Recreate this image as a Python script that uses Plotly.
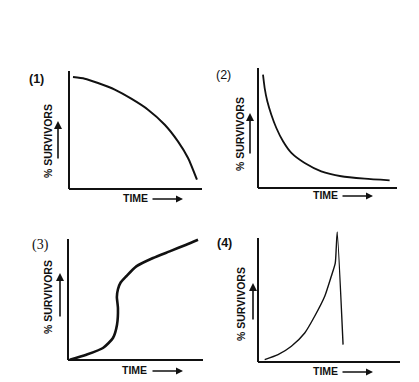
import plotly.graph_objects as go

W, H = 419, 382

# ---- data (time in %, survivors in %) ----
p1_time = [3.0, 11.8, 21.8, 34.4, 46.8, 59.4, 72.0, 81.9, 89.5, 96.2]
p1_surv = [94.9, 93.5, 89.8, 84.2, 76.5, 67.2, 54.5, 40.4, 26.3, 7.9]

p2_time = [3.6, 4.8, 6.7, 9.6, 13.2, 18.0, 24.0, 33.6, 45.5, 59.9, 76.8, 94.7]
p2_surv = [94.4, 83.3, 72.3, 61.1, 50.0, 38.9, 29.2, 20.8, 13.9, 9.8, 7.8, 6.4]

p3_time = [1.3, 13.6, 25.9, 33.3, 36.3, 37.0, 36.2, 37.0, 39.0, 43.2, 50.6, 63.0, 75.3, 87.6, 96.3]
p3_surv = [0.2, 4.4, 9.9, 18.2, 29.2, 43.0, 52.0, 58.5, 64.0, 69.2, 77.4, 84.3, 89.8, 95.3, 99.4]

p4_time = [4.7, 14.1, 23.5, 32.9, 39.9, 47.0, 51.6, 54.4, 55.1, 55.8, 59.9]
p4_surv = [1.9, 5.9, 12.7, 23.4, 36.9, 53.0, 69.1, 79.8, 91.9, 104.8, 14.0]

panel_labels = ["(1)", "(2)", "(3)", "(4)"]
y_title = "% SURVIVORS"
x_title = "TIME"

# ---- layout geometry (pixels) ----
# (y-axis x, x-axis end x, y-axis top y, x-axis y)
geom = [
    (61, 194, 63, 181),
    (250, 389, 60, 180),
    (60, 195, 231, 352),
    (250, 392, 230, 354),
]
line_w = [2.0, 1.8, 2.6, 1.4]
series = [(p1_time, p1_surv), (p2_time, p2_surv), (p3_time, p3_surv), (p4_time, p4_surv)]

def px(x):
    return x / W

def py(y):
    return 1 - y / H

fig = go.Figure()
shapes = []
annotations = []
PAD = 3
TOP = 110

for i, ((x0, x1, yt, yb), (tx, sy)) in enumerate(zip(geom, series)):
    n = "" if i == 0 else str(i + 1)
    sx = (x1 - x0) / 100
    syy = (yb - yt) / 100
    dom_x = [px(x0 - PAD * sx), px(x1 + PAD * sx)]
    dom_y = [py(yb + PAD * syy), py(yb - TOP * syy)]
    fig.add_trace(go.Scatter(x=tx, y=sy, mode="lines", xaxis="x" + n, yaxis="y" + n,
                             line=dict(color="#111111", width=line_w[i], shape="spline", smoothing=0.6),
                             hoverinfo="skip", showlegend=False))
    ax = dict(domain=dom_x, range=[-PAD, 100 + PAD], visible=False, fixedrange=True)
    ay = dict(domain=dom_y, range=[-PAD, TOP], visible=False, fixedrange=True)
    if i > 0:
        ax["anchor"] = "y" + n
        ay["anchor"] = "x" + n
    fig.update_layout({"xaxis" + n: ax, "yaxis" + n: ay})
    xr = "x" + n
    yr = "y" + n
    shapes.append(dict(type="line", xref=xr, yref=yr, x0=0, y0=0, x1=0, y1=100,
                       line=dict(color="#111111", width=2)))
    shapes.append(dict(type="line", xref=xr, yref=yr, x0=0, y0=0, x1=100, y1=0,
                       line=dict(color="#111111", width=2)))

# panel number labels
lab_pos = [(29, 71), (215, 67), (32, 237), (216, 235)]
lab_font = [
    dict(family="Liberation Sans", size=12.5, color="#111111", weight="bold"),
    dict(family="Liberation Sans", size=12.5, color="#111111"),
    dict(family="Liberation Serif", size=14, color="#111111"),
    dict(family="Liberation Sans", size=12.5, color="#111111", weight="bold"),
]
for (x, y), t, f in zip(lab_pos, panel_labels, lab_font):
    annotations.append(dict(text=t, x=px(x), y=py(y), xref="paper", yref="paper",
                            showarrow=False, font=f, xanchor="center", yanchor="middle"))

# y titles and arrows
ytit_pos = [(40, 133), (232, 126), (40, 289), (233, 296)]
yarr = [(50, 152, 113), (242, 147, 105), (52, 310, 265), (245, 313, 275)]
for (x, y) in ytit_pos:
    annotations.append(dict(text=y_title, x=px(x), y=py(y), xref="paper", yref="paper",
                            showarrow=False, textangle=-90,
                            font=dict(family="Liberation Sans", size=10.5,
                                      color="#111111", weight="bold"),
                            xanchor="center", yanchor="middle"))
for (x, yb, yt) in yarr:
    annotations.append(dict(text="", x=px(x), y=py(yt), ax=0, ay=yb - yt,
                            xref="paper", yref="paper",
                            showarrow=True, arrowhead=2, arrowsize=1, arrowwidth=1.6,
                            arrowcolor="#111111"))

# x titles and arrows
xtit_pos = [(127, 190), (317, 187), (126, 362), (317, 363)]
xarr = [(143, 175, 191), (333, 365, 188), (143, 175, 363), (333, 365, 364)]
for (x, y) in xtit_pos:
    annotations.append(dict(text=x_title, x=px(x), y=py(y), xref="paper", yref="paper",
                            showarrow=False,
                            font=dict(family="Liberation Sans", size=10.5, color="#111111", weight="bold"),
                            xanchor="center", yanchor="middle"))
for (x0, x1, y) in xarr:
    annotations.append(dict(text="", x=px(x1), y=py(y), ax=x0 - x1, ay=0,
                            xref="paper", yref="paper",
                            showarrow=True, arrowhead=2, arrowsize=1, arrowwidth=1.4,
                            arrowcolor="#111111"))

fig.update_layout(width=W, height=H, margin=dict(l=0, r=0, t=0, b=0),
                  paper_bgcolor="white", plot_bgcolor="rgba(0,0,0,0)",
                  shapes=shapes, annotations=annotations, showlegend=False)

fig.write_html("out.html", config={"displayModeBar": False})
